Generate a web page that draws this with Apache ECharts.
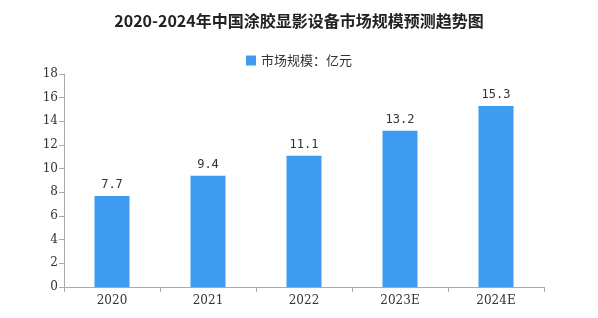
<!DOCTYPE html>
<html><head><meta charset="utf-8">
<script src="https://cdn.jsdelivr.net/npm/echarts@6/dist/echarts.min.js"></script>
<style>html,body{margin:0;padding:0;background:#fff}#c{width:598px;height:318px}</style>
</head><body><div id="c"></div>
<script>
const categories = ['2020', '2021', '2022', '2023E', '2024E'];
const values = [7.7, 9.4, 11.1, 13.2, 15.3];
const seriesName = '市场规模：亿元';
const titleText = '2020-2024年中国涂胶显影设备市场规模预测趋势图';

const chart = echarts.init(document.getElementById('c'));
chart.setOption({
  animation: false,
  backgroundColor: '#fff',
  title: {
    text: titleText, left: 'center', top: 8,
    textStyle: { fontSize: 16, fontWeight: 'bold', color: '#222', fontFamily: '"Noto Sans CJK SC", sans-serif' }
  },
  legend: {
    data: [seriesName], top: 49, left: 'center', itemWidth: 10, itemHeight: 10, itemGap: 6,
    icon: 'rect',
    textStyle: { fontSize: 13, color: '#333', fontFamily: '"Noto Sans CJK SC", sans-serif' }
  },
  grid: { left: 64, right: 54, top: 74, bottom: 31 },
  xAxis: {
    type: 'category', data: categories,
    axisLine: { lineStyle: { color: '#aaa' } },
    axisTick: { show: true, alignWithLabel: false, lineStyle: { color: '#aaa' } },
    axisLabel: { color: '#333', fontSize: 12, margin: 8, fontFamily: '"DejaVu Serif", serif' }
  },
  yAxis: {
    type: 'value', min: 0, max: 18, interval: 2,
    splitLine: { show: false },
    axisLine: { show: true, lineStyle: { color: '#aaa' } },
    axisTick: { show: true, lineStyle: { color: '#aaa' } },
    axisLabel: { color: '#333', fontSize: 12, margin: 6, fontFamily: '"DejaVu Serif", serif' }
  },
  series: [{
    name: seriesName, type: 'bar', data: values, barWidth: 35,
    itemStyle: { color: '#3d9bf0' },
    label: { show: true, position: 'top', color: '#333', fontSize: 12, distance: 5, fontFamily: '"DejaVu Sans Mono", monospace' }
  }]
});
</script></body></html>
